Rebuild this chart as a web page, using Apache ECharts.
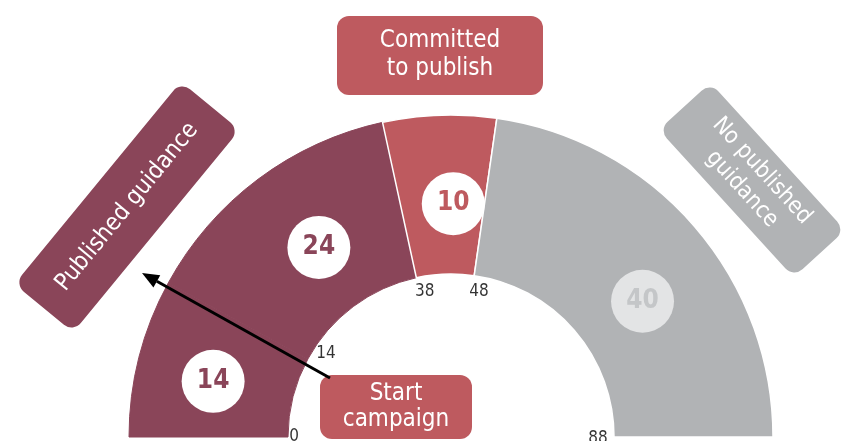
<!DOCTYPE html>
<html>
<head>
<meta charset="utf-8">
<script src="https://cdn.jsdelivr.net/npm/echarts@6/dist/echarts.min.js"></script>
<style>
  html, body { margin: 0; padding: 0; background: #fff; }
  #chart { width: 841px; height: 441px; }
</style>
</head>
<body>
<div id="chart"></div>
<script>
// segments of the half ring, left to right
const segNames = ['Published (start)', 'Published guidance', 'Committed to publish', 'No published guidance'];
const segValues = [14, 24, 10, 40];
const segColors = ['#8a4559', '#8a4559', '#be5a5f', '#b1b3b5'];
const circleText = ['#8a4559', '#8a4559', '#be5a5f', '#c4c6c8'];
const circleFill = ['#fff', '#fff', '#fff', '#e3e4e5'];
// running totals shown at the inner edge
const tickValues = [0, 14, 38, 48, 88];

// small nudges so labels sit where the original put them
const circleNudge = [[0, 5], [15, 7], [11, 12], [6, 25]];
const tickNudge = [[-10, 0], [4, -13], [5, -2], [7, 0], [0, 2]];

const total = segValues.reduce((a, b) => a + b, 0);
const FONT = "'DejaVu Sans Condensed', 'Liberation Sans Narrow', sans-serif";
const cx = 451, cy = 437, rIn = 163, rOut = 322;

const chart = echarts.init(document.getElementById('chart'));

const pieData = segValues.map((v, i) => ({
  name: segNames[i],
  value: v,
  itemStyle: {
    color: segColors[i],
    // same-colour edge hides the seam between the two maroon parts
    borderColor: i >= 2 ? '#fff' : segColors[i],
    borderWidth: i >= 2 ? 1.5 : 1
  },
  label: {
    color: circleText[i],
    backgroundColor: circleFill[i],
    offset: circleNudge[i]
  }
}));

// arrow from "Start campaign" to "Published guidance"
const tip = [142, 273], tail = [330, 378];
const dx = tail[0] - tip[0], dy = tail[1] - tip[1];
const len = Math.sqrt(dx * dx + dy * dy);
const ux = dx / len, uy = dy / len;
const headL = 17, headW = 7;
const base = [tip[0] + ux * headL, tip[1] + uy * headL];

chart.setOption({
  animation: false,
  polar: { center: [cx, cy], radius: [0, rOut] },
  angleAxis: { type: 'value', min: 0, max: total * 2, startAngle: 180, clockwise: true, show: false },
  radiusAxis: { type: 'value', min: 0, max: rOut, show: false },
  series: [
    {
      type: 'pie',
      center: [cx, cy],
      radius: [rIn, rOut],
      startAngle: 180,
      endAngle: 0,
      clockwise: true,
      silent: true,
      emphasis: { disabled: true },
      labelLine: { show: false },
      label: {
        show: true,
        position: 'inside',
        formatter: '{c}',
        fontFamily: FONT,
        fontWeight: 'bold',
        fontSize: 26,
        width: 63,
        height: 63,
        lineHeight: 63,
        borderRadius: 32,
        align: 'center',
        verticalAlign: 'middle'
      },
      data: pieData
    },
    {
      type: 'scatter',
      coordinateSystem: 'polar',
      silent: true,
      symbolSize: 1,
      itemStyle: { color: 'transparent' },
      label: {
        show: true,
        position: 'inside',
        formatter: p => String(p.value[1]),
        color: '#000',
        fontFamily: FONT,
        fontSize: 17
      },
      data: tickValues.map((v, i) => ({ value: [147, v], label: { offset: tickNudge[i] } }))
    }
  ],
  graphic: [
    {
      type: 'group', x: 440, y: 55, z: 100, children: [
        { type: 'rect', shape: { x: -103, y: -39, width: 206, height: 79, r: 12 }, style: { fill: '#be5a5f' } },
        { type: 'text', style: { text: 'Committed\nto publish', x: 0, y: 0, align: 'center', verticalAlign: 'middle', fill: '#fff', font: '24px ' + FONT, lineHeight: 28 } }
      ]
    },
    {
      type: 'group', x: 127, y: 207, z: 100, rotation: 50.6 * Math.PI / 180, children: [
        { type: 'rect', shape: { x: -131, y: -38, width: 262, height: 76, r: 12 }, style: { fill: '#8a4559' } },
        { type: 'text', style: { text: 'Published guidance', x: 0, y: 0, align: 'center', verticalAlign: 'middle', fill: '#fff', font: '24px ' + FONT } }
      ]
    },
    {
      type: 'group', x: 752, y: 180, z: 100, rotation: -47.6 * Math.PI / 180, children: [
        { type: 'rect', shape: { x: -100, y: -35, width: 200, height: 70, r: 12 }, style: { fill: '#b1b3b5' } },
        { type: 'text', style: { text: 'No published\nguidance', x: 0, y: 0, align: 'center', verticalAlign: 'middle', fill: '#fff', font: '23px ' + FONT, lineHeight: 27 } }
      ]
    },
    {
      type: 'line', z: 100,
      shape: { x1: tail[0], y1: tail[1], x2: base[0], y2: base[1] },
      style: { stroke: '#000', lineWidth: 3 }
    },
    {
      type: 'polygon', z: 100,
      shape: { points: [tip, [base[0] - uy * headW, base[1] + ux * headW], [base[0] + uy * headW, base[1] - ux * headW]] },
      style: { fill: '#000' }
    },
    {
      type: 'group', x: 396, y: 407, z: 101, children: [
        { type: 'rect', shape: { x: -76, y: -32, width: 152, height: 64, r: 12 }, style: { fill: '#be5a5f' } },
        { type: 'text', style: { text: 'Start\ncampaign', x: 0, y: 0, align: 'center', verticalAlign: 'middle', fill: '#fff', font: '24px ' + FONT, lineHeight: 26 } }
      ]
    }
  ]
});
</script>
</body>
</html>
